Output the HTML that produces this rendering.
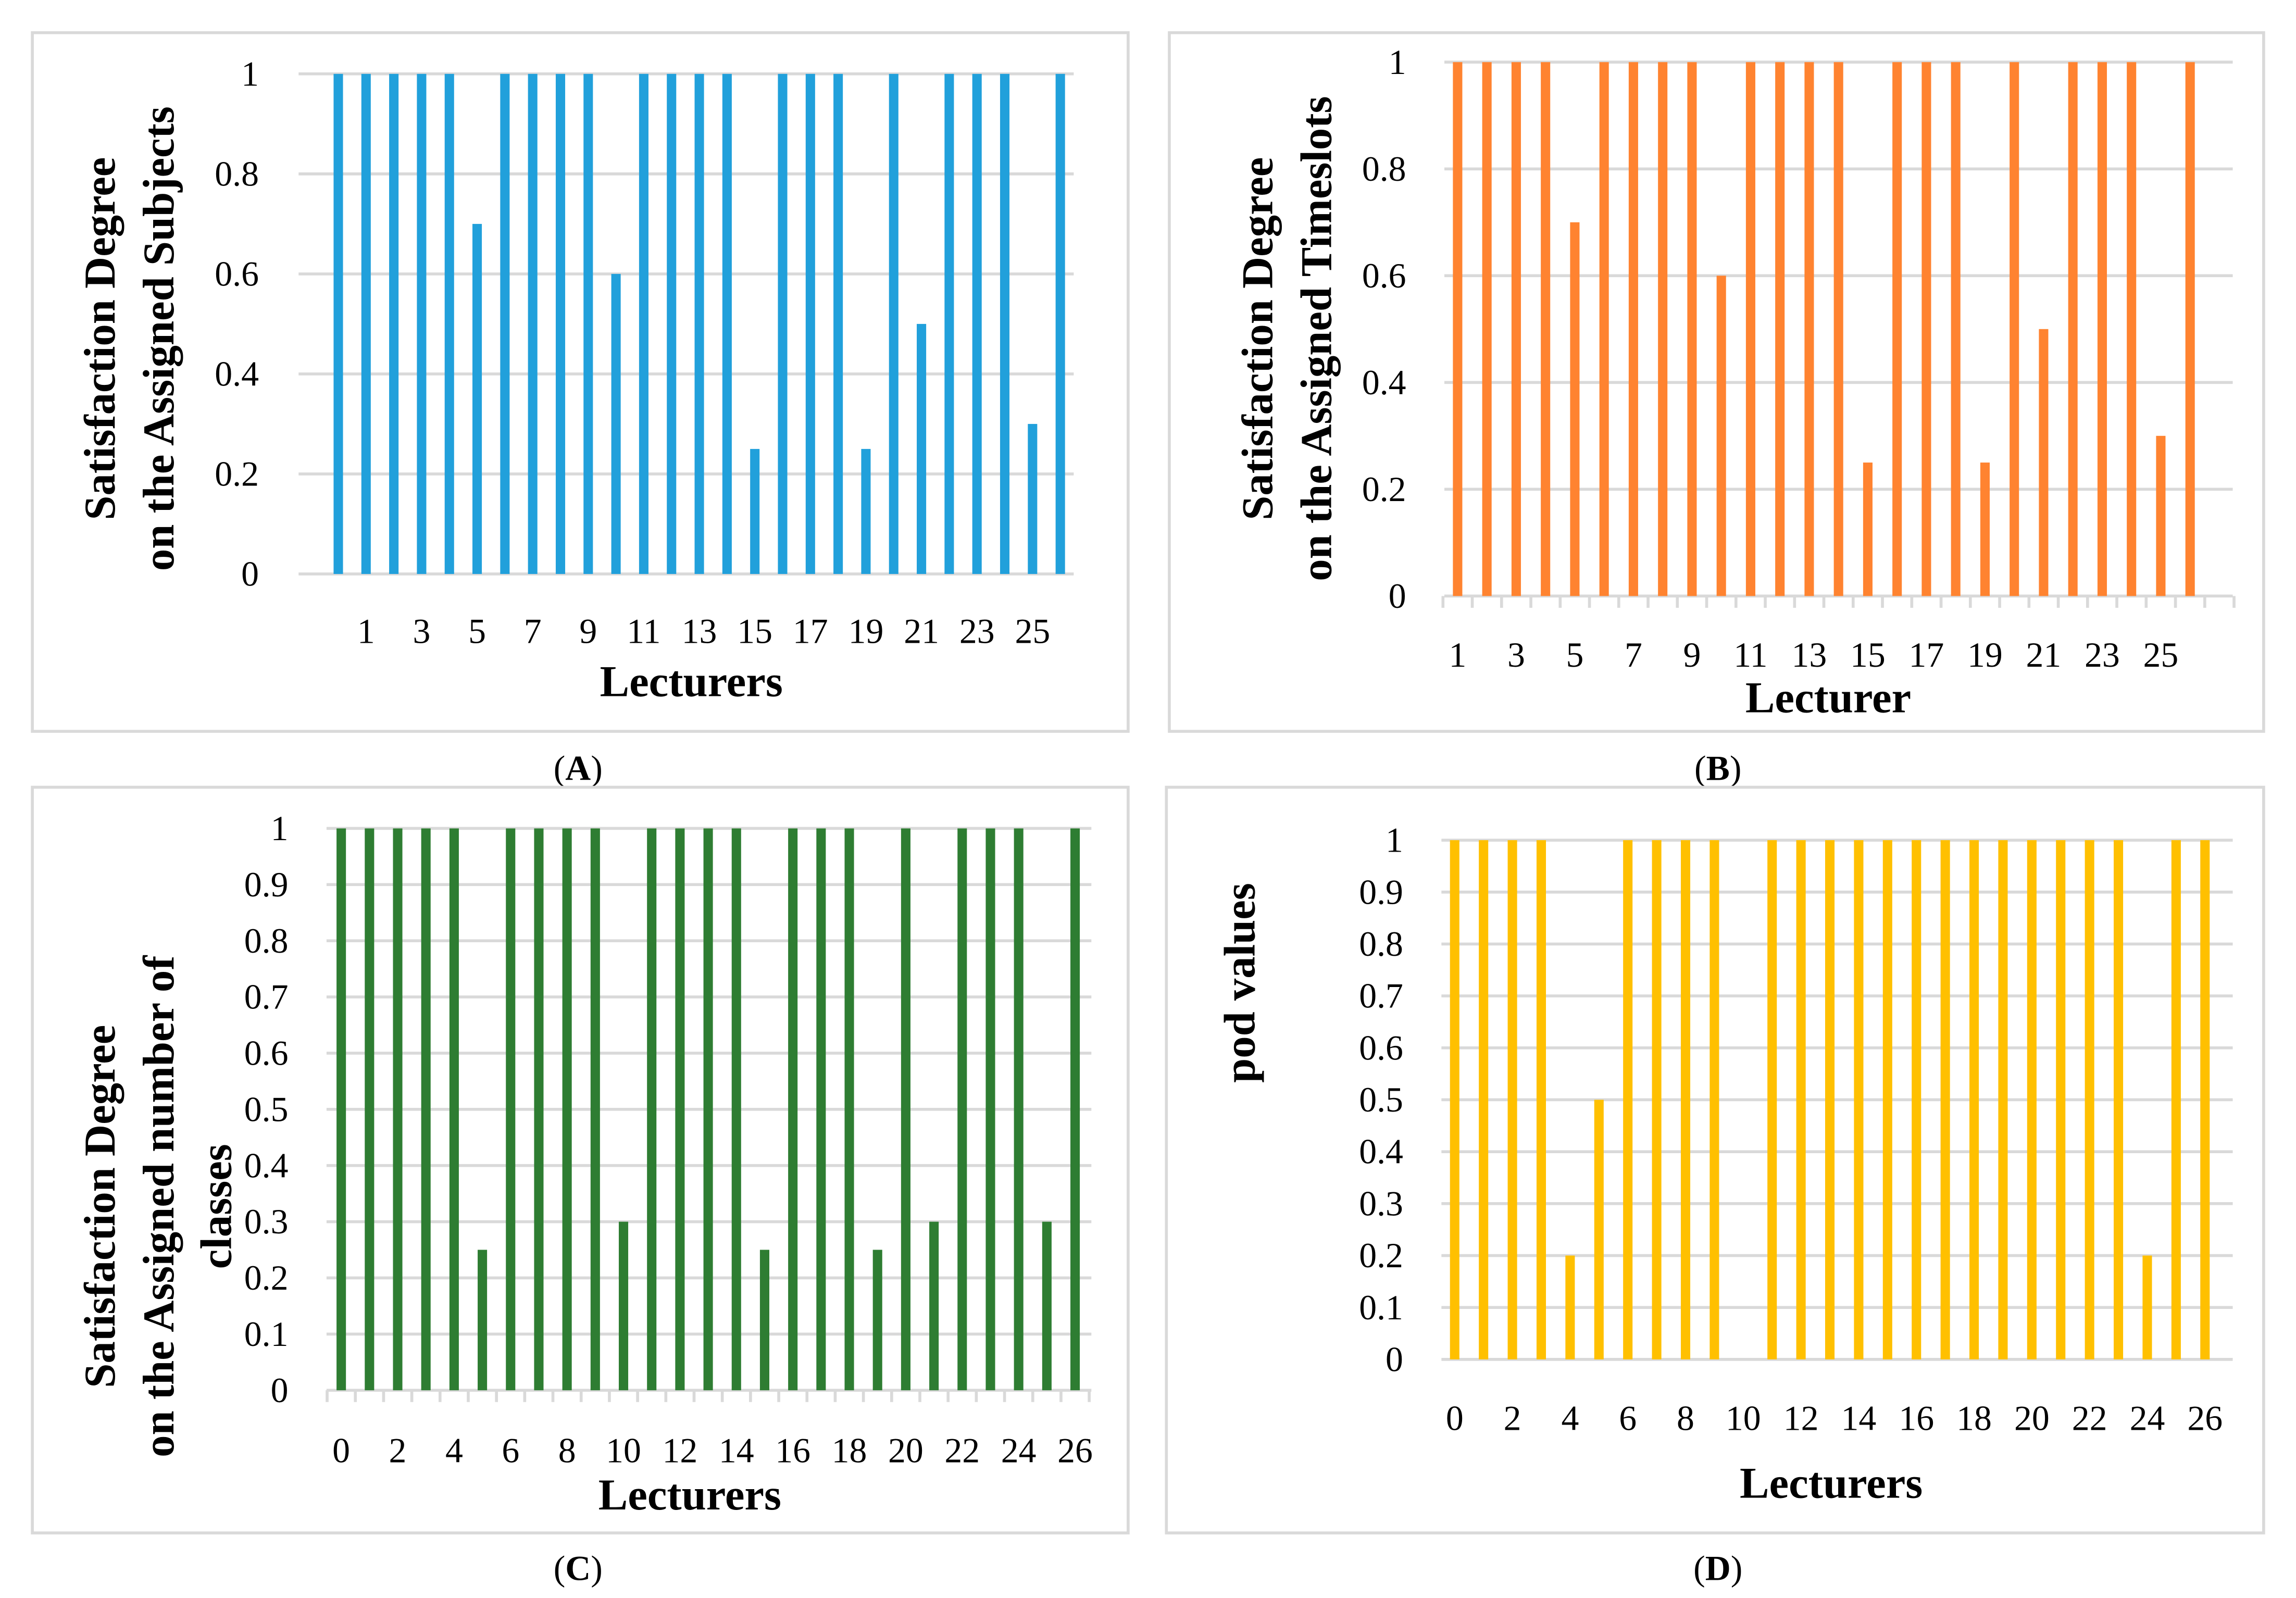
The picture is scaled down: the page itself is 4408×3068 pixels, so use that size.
<!DOCTYPE html>
<html><head><meta charset="utf-8"><style>
html,body{margin:0;padding:0;background:#fff}
svg{display:block}
text{font-family:"Liberation Serif",serif;fill:#000}
</style></head><body>
<svg id="fig" width="4408" height="3068" viewBox="0 0 1561 1086" xmlns="http://www.w3.org/2000/svg">
<rect x="0" y="0" width="1561" height="1086" fill="#fff"/>
</svg>
<script>
const seriesA = [1,1,1,1,1,0.7,1,1,1,1,0.6,1,1,1,1,0.25,1,1,1,0.25,1,0.5,1,1,1,0.3,1];
const seriesB = [1,1,1,1,0.7,1,1,1,1,0.6,1,1,1,1,0.25,1,1,1,0.25,1,0.5,1,1,1,0.3,1];
const seriesC = [1,1,1,1,1,0.25,1,1,1,1,0.3,1,1,1,1,0.25,1,1,1,0.25,1,0.3,1,1,1,0.3,1];
const seriesD = [1,1,1,1,0.2,0.5,1,1,1,1,0,1,1,1,1,1,1,1,1,1,1,1,1,1,0.2,1,1];
const ticksA = [0,0.2,0.4,0.6,0.8,1];
const ticksB = [0,0.2,0.4,0.6,0.8,1];
const ticksC = [0,0.1,0.2,0.3,0.4,0.5,0.6,0.7,0.8,0.9,1];
const ticksD = [0,0.1,0.2,0.3,0.4,0.5,0.6,0.7,0.8,0.9,1];
const xLabelsA = [1,3,5,7,9,11,13,15,17,19,21,23,25];
const xLabelsB = [1,3,5,7,9,11,13,15,17,19,21,23,25];
const xLabelsC = [0,2,4,6,8,10,12,14,16,18,20,22,24,26];
const xLabelsD = [0,2,4,6,8,10,12,14,16,18,20,22,24,26];

const NS='http://www.w3.org/2000/svg';
const svg=document.getElementById('fig');
function mk(tag,attrs,parent){const e=document.createElementNS(NS,tag);for(const k in attrs)e.setAttribute(k,attrs[k]);(parent||svg).appendChild(e);return e;}

function panel(cfg){
  const g=mk('g',{});
  
  
  const box=mk('rect',{x:cfg.box[0],y:cfg.box[1],width:cfg.box[2]-cfg.box[0],height:cfg.box[3]-cfg.box[1],fill:'#fff',stroke:'#d9d9d9','stroke-width':2},g);
  
  
  const yS=v=>cfg.y0+(cfg.y1-cfg.y0)*v;
  const step=cfg.step;
  const xS=i=>cfg.bx0+step*i;
  cfg.ticks.forEach(t=>{
    const l=mk('line',{x1:cfg.gx0,x2:cfg.gx1,y1:yS(t),y2:yS(t),stroke:'#d9d9d9','stroke-width':2},g);
    
    
    const tx=mk('text',{x:cfg.tickX,y:yS(t)+8,'text-anchor':'end','font-size':24},g);
    tx.textContent=String(t);
    
    
  });
  if(cfg.axisTicks){
    for(let x=cfg.bx0-step/2;x<=cfg.gx1+1;x+=step){
      const l=mk('line',{x1:x,x2:x,y1:cfg.y0,y2:cfg.y0+8,stroke:'#d9d9d9','stroke-width':2},g);
      
      
    }
  }
  cfg.data.forEach((v,i)=>{
    const h=cfg.y0-yS(v);
    const r=mk('rect',{x:xS(i)-3.2,y:yS(v),width:6.4,height:Math.max(h,0),fill:cfg.color},g);
    
    
  });
  cfg.xLabels.forEach(n=>{
    const t=mk('text',{x:xS(n+cfg.labelOffset),y:cfg.labelY,'text-anchor':'middle','font-size':24},g);
    t.textContent=String(n);
    
    
  });
  const xt=mk('text',{x:cfg.xTitle[0],y:cfg.xTitle[1],'text-anchor':'middle','font-size':30,'font-weight':'bold'},g);
  xt.textContent=cfg.xTitle[2];
  
  
  cfg.yTitle.forEach(([x,y,s])=>{
    const t=mk('text',{x:x,y:y,'text-anchor':'middle','font-size':30,'font-weight':'bold',transform:`rotate(-90 ${x} ${y})`},g);
    t.textContent=s;
    
    
  });
  const cap=mk('text',{x:cfg.caption[0],y:cfg.caption[1],'text-anchor':'middle','font-size':24},g);
  cap.innerHTML='(<tspan font-weight="bold">'+cfg.caption[2]+'</tspan>)';
  
  
}

panel({name:'chart-a',box:[22,22,767,497],data:seriesA,ticks:ticksA,color:'#21A0DB',
  y0:390,y1:50,gx0:203,gx1:730,bx0:230,step:18.88,tickX:176,xLabels:xLabelsA,labelOffset:0,labelY:437,
  xTitle:[470,473,'Lecturers'],yTitle:[[78,230,'Satisfaction Degree'],[118,230,'on the Assigned Subjects']],
  caption:[393,530,'A']});
panel({name:'chart-b',box:[795,22,1539,497],data:seriesB,ticks:ticksB,color:'#FF8330',
  y0:405,y1:42,gx0:982,gx1:1518,bx0:991,step:19.92,tickX:956,xLabels:xLabelsB,labelOffset:-1,labelY:453,
  axisTicks:true,
  xTitle:[1243,484,'Lecturer'],yTitle:[[865,230,'Satisfaction Degree'],[905,230,'on the Assigned Timeslots']],
  caption:[1168,530,'B']});
panel({name:'chart-c',box:[22,535,767,1042],data:seriesC,ticks:ticksC,color:'#2E7D32',
  y0:945,y1:563,gx0:222,gx1:742,bx0:232,step:19.19,tickX:196,xLabels:xLabelsC,labelOffset:0,labelY:994,
  axisTicks:true,
  xTitle:[469,1026,'Lecturers'],yTitle:[[78,820,'Satisfaction Degree'],[118,820,'on the Assigned number of'],[157,820,'classes']],
  caption:[393,1074,'C']});
panel({name:'chart-d',box:[793,535,1539,1042],data:seriesD,ticks:ticksD,color:'#FFC000',
  y0:924,y1:571,gx0:980,gx1:1518,bx0:989,step:19.62,tickX:954,xLabels:xLabelsD,labelOffset:0,labelY:972,
  xTitle:[1245,1018,'Lecturers'],yTitle:[[853,668,'pod values']],
  caption:[1168,1074,'D']});
</script>
</body></html>
